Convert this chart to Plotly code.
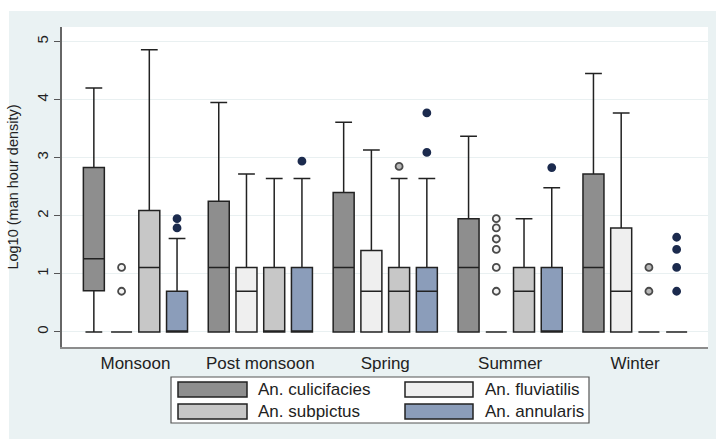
import plotly.graph_objects as go

# Seasons on the x axis
seasons = ["Monsoon", "Post monsoon", "Spring", "Summer", "Winter"]

# Species, in drawing order
species = ["An. culicifacies", "An. fluviatilis", "An. subpictus", "An. annularis"]

# Box summary statistics of log10(man hour density), one value per season
culicifacies_lo = [0.00, 0.00, 0.00, 0.00, 0.00]
culicifacies_q1 = [0.71, 0.00, 0.00, 0.00, 0.00]
culicifacies_med = [1.26, 1.11, 1.11, 1.11, 1.11]
culicifacies_q3 = [2.83, 2.25, 2.40, 1.95, 2.72]
culicifacies_hi = [4.20, 3.95, 3.61, 3.37, 4.45]
culicifacies_out = [[], [], [], [], []]

fluviatilis_lo = [0.00, 0.00, 0.00, 0.00, 0.00]
fluviatilis_q1 = [0.00, 0.00, 0.00, 0.00, 0.00]
fluviatilis_med = [0.00, 0.70, 0.70, 0.00, 0.70]
fluviatilis_q3 = [0.00, 1.11, 1.40, 0.00, 1.79]
fluviatilis_hi = [0.00, 2.72, 3.13, 0.00, 3.77]
fluviatilis_out = [[0.70, 1.11], [], [], [0.70, 1.11, 1.42, 1.60, 1.79, 1.95], []]

subpictus_lo = [0.00, 0.00, 0.00, 0.00, 0.00]
subpictus_q1 = [0.00, 0.00, 0.00, 0.00, 0.00]
subpictus_med = [1.11, 0.00, 0.70, 0.70, 0.00]
subpictus_q3 = [2.09, 1.11, 1.11, 1.11, 0.00]
subpictus_hi = [4.86, 2.64, 2.64, 1.95, 0.00]
subpictus_out = [[], [], [2.85], [], [0.70, 1.11]]

annularis_lo = [0.00, 0.00, 0.00, 0.00, 0.00]
annularis_q1 = [0.00, 0.00, 0.00, 0.00, 0.00]
annularis_med = [0.00, 0.00, 0.70, 0.00, 0.00]
annularis_q3 = [0.70, 1.11, 1.11, 1.11, 0.00]
annularis_hi = [1.61, 2.64, 2.64, 2.48, 0.00]
annularis_out = [[1.79, 1.95], [2.94], [3.09, 3.77], [2.83], [0.70, 1.11, 1.42, 1.63]]

# Y axis ticks
y_ticks = [0, 1, 2, 3, 4, 5]

stats = {
    "An. culicifacies": (culicifacies_lo, culicifacies_q1, culicifacies_med, culicifacies_q3, culicifacies_hi, culicifacies_out),
    "An. fluviatilis": (fluviatilis_lo, fluviatilis_q1, fluviatilis_med, fluviatilis_q3, fluviatilis_hi, fluviatilis_out),
    "An. subpictus": (subpictus_lo, subpictus_q1, subpictus_med, subpictus_q3, subpictus_hi, subpictus_out),
    "An. annularis": (annularis_lo, annularis_q1, annularis_med, annularis_q3, annularis_hi, annularis_out),
}

box_fill = {
    "An. culicifacies": "#8e8e8e",
    "An. fluviatilis": "#efefef",
    "An. subpictus": "#c7c7c7",
    "An. annularis": "#8b9dba",
}
point_fill = {
    "An. culicifacies": "#8e8e8e",
    "An. fluviatilis": "#f4f4f4",
    "An. subpictus": "#b8b8b8",
    "An. annularis": "#1c2b4e",
}
point_edge = {
    "An. culicifacies": "#333333",
    "An. fluviatilis": "#4a4a4a",
    "An. subpictus": "#4a4a4a",
    "An. annularis": "#1c2b4e",
}

FONT = "Liberation Sans, Arial, sans-serif"
BG = "#eaf2f3"
EDGE = "#222222"

fig = go.Figure()
for sp in species:
    lo, q1, med, q3, hi, out = stats[sp]
    # box and whiskers from the summary statistics
    fig.add_trace(go.Box(
        name=sp,
        offsetgroup=sp,
        x=seasons,
        lowerfence=lo,
        q1=q1,
        median=med,
        q3=q3,
        upperfence=hi,
        boxpoints=False,
        fillcolor=box_fill[sp],
        line=dict(color=EDGE, width=1.5),
        whiskerwidth=0.8,
        showlegend=False,
    ))
    # outside values, placed in the same slot as their box
    ox = [s for s, vals in zip(seasons, out) for _ in vals]
    oy = [v for vals in out for v in vals]
    if oy:
        fig.add_trace(go.Box(
            name=sp + " outside values",
            offsetgroup=sp,
            x=ox,
            y=oy,
            boxpoints="all",
            jitter=0,
            pointpos=0,
            fillcolor="rgba(0,0,0,0)",
            line=dict(color="rgba(0,0,0,0)", width=0),
            marker=dict(symbol="circle", size=7, color=point_fill[sp],
                        line=dict(color=point_edge[sp], width=1.8)),
            hoveron="points",
            showlegend=False,
        ))

# Page geometry (pixels)
W, H = 716, 439
ML, MR, MT, MB = 62, 8, 27, 92
PW, PH = W - ML - MR, H - MT - MB


def px(x):
    return (x - ML) / PW


def py(y):
    return (H - MB - y) / PH


shapes = [
    # thin white edge along the top and left of the page
    dict(type="rect", xref="paper", yref="paper", layer="below",
         x0=px(0), x1=px(9), y0=py(H), y1=py(0),
         fillcolor="white", line=dict(width=0)),
    dict(type="rect", xref="paper", yref="paper", layer="below",
         x0=px(0), x1=px(W), y0=py(11), y1=py(0),
         fillcolor="white", line=dict(width=0)),
    # legend frame
    dict(type="rect", xref="paper", yref="paper",
         x0=px(171), x1=px(589), y0=py(423), y1=py(377),
         fillcolor="white", line=dict(color="#555555", width=1.2)),
]
annotations = []

# legend entries: two columns, two rows
legend_cols = [(178, 247, 256), (405, 473, 483)]
legend_rows = [(382, 397), (404, 419)]
order = [("An. culicifacies", 0, 0), ("An. fluviatilis", 1, 0),
         ("An. subpictus", 0, 1), ("An. annularis", 1, 1)]
for sp, c, r in order:
    sx0, sx1, tx = legend_cols[c]
    sy0, sy1 = legend_rows[r]
    shapes.append(dict(type="rect", xref="paper", yref="paper",
                       x0=px(sx0), x1=px(sx1), y0=py(sy1), y1=py(sy0),
                       fillcolor=box_fill[sp], line=dict(color=EDGE, width=1.5)))
    annotations.append(dict(xref="paper", yref="paper", x=px(tx), y=py((sy0 + sy1) / 2),
                            text=sp, showarrow=False, xanchor="left", yanchor="middle",
                            font=dict(family=FONT, size=17, color="#222222")))

fig.update_layout(
    width=W, height=H,
    margin=dict(l=ML, r=MR, t=MT, b=MB),
    paper_bgcolor=BG,
    plot_bgcolor="white",
    boxmode="group",
    boxgap=0.112,
    boxgroupgap=0.243,
    showlegend=False,
    shapes=shapes,
    annotations=annotations,
    font=dict(family=FONT, color="#222222"),
)
fig.update_xaxes(
    type="category",
    categoryorder="array",
    categoryarray=seasons,
    range=[-0.588, 4.584],
    showline=True, linecolor="#8c8c8c", linewidth=2,
    ticks="", showgrid=False, zeroline=False,
    tickfont=dict(family=FONT, size=17, color="#222222"),
    ticklabelstandoff=0,
)
fig.update_yaxes(
    range=[-0.26, 5.25],
    tickvals=y_ticks,
    ticktext=[str(v) for v in y_ticks],
    tickangle=-90,
    ticks="outside", ticklen=6, tickcolor="#555555", tickwidth=1.2,
    showline=True, linecolor="#666666", linewidth=1.5,
    showgrid=True, gridcolor="#e9f0f1", gridwidth=1,
    zeroline=False,
    tickfont=dict(family=FONT, size=15, color="#222222"),
    title=dict(text="Log10 (man hour density)", standoff=12,
               font=dict(family=FONT, size=14.5, color="#222222")),
)

fig.write_html("out.html")
